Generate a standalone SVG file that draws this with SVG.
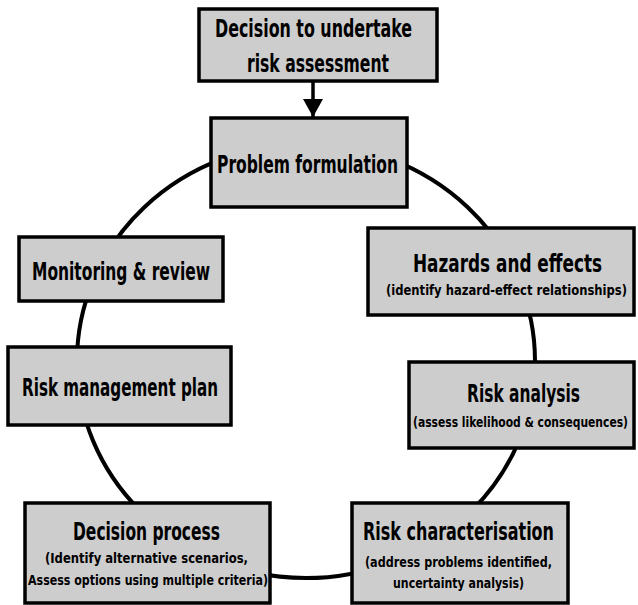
<svg xmlns="http://www.w3.org/2000/svg" width="638" height="605" viewBox="0 0 638 605">
<style>
.box{fill:#cdcdcd;stroke:#000;stroke-width:3.5}
.t{font-family:"DejaVu Sans Condensed","DejaVu Sans",sans-serif;font-stretch:condensed;font-weight:bold;fill:#000;text-anchor:middle}
.m{font-size:24px}
.s{font-size:14px}
.hz{font-size:22px}
.c{fill:none;stroke:#000;stroke-width:4}
</style>
<defs>
<marker id="ah" viewBox="0 0 18 20" refX="18" refY="10" markerWidth="18" markerHeight="20" markerUnits="userSpaceOnUse" orient="auto">
<path d="M0,0 L18,10 L0,20 Z" fill="#000"/>
</marker>
</defs>
<rect width="638" height="605" fill="#fff"/>
<g id="connectors">
<ellipse class="c" cx="306" cy="361" rx="229" ry="217"/>
<line x1="313" y1="81" x2="313" y2="117" stroke="#000" stroke-width="3.5" marker-end="url(#ah)"/>
</g>
<g id="decision">
<rect class="box" x="199" y="9" width="238" height="72"/>
<text class="t m" x="313.5" y="37" textLength="197" lengthAdjust="spacingAndGlyphs">Decision to undertake</text>
<text class="t m" x="318" y="72" textLength="142" lengthAdjust="spacingAndGlyphs">risk assessment</text>
</g>
<g id="problem">
<rect class="box" x="211" y="118" width="196" height="89"/>
<text class="t m" x="307.5" y="173" textLength="181" lengthAdjust="spacingAndGlyphs">Problem formulation</text>
</g>
<g id="monitoring">
<rect class="box" x="19" y="237" width="204" height="64"/>
<text class="t m" x="121" y="280" textLength="178" lengthAdjust="spacingAndGlyphs">Monitoring &amp; review</text>
</g>
<g id="riskplan">
<rect class="box" x="8" y="347" width="223" height="78"/>
<text class="t m" x="120" y="396" textLength="196" lengthAdjust="spacingAndGlyphs">Risk management plan</text>
</g>
<g id="hazards">
<rect class="box" x="368" y="228" width="266" height="87"/>
<text class="t m" x="507.5" y="272" textLength="189" lengthAdjust="spacingAndGlyphs">Hazards and effects</text>
<text class="t s" x="506.5" y="295" textLength="241" lengthAdjust="spacingAndGlyphs">(identify hazard-effect relationships)</text>
</g>
<g id="analysis">
<rect class="box" x="409" y="362" width="225" height="86"/>
<text class="t m" x="523.5" y="402" textLength="113" lengthAdjust="spacingAndGlyphs">Risk analysis</text>
<text class="t s" x="520.5" y="427" textLength="215" lengthAdjust="spacingAndGlyphs">(assess likelihood &amp; consequences)</text>
</g>
<g id="decisionprocess">
<rect class="box" x="25" y="503" width="245" height="100"/>
<text class="t m" x="146.5" y="540" textLength="147" lengthAdjust="spacingAndGlyphs">Decision process</text>
<text class="t s" x="146.5" y="563" textLength="203" lengthAdjust="spacingAndGlyphs">(Identify alternative scenarios,</text>
<text class="t s" x="148" y="585" textLength="240" lengthAdjust="spacingAndGlyphs">Assess options using multiple criteria)</text>
</g>
<g id="characterisation">
<rect class="box" x="352" y="503" width="216" height="100"/>
<text class="t m" x="458.5" y="540" textLength="191" lengthAdjust="spacingAndGlyphs">Risk characterisation</text>
<text class="t s" x="458.5" y="567" textLength="187" lengthAdjust="spacingAndGlyphs">(address problems identified,</text>
<text class="t s" x="458.5" y="588" textLength="131" lengthAdjust="spacingAndGlyphs">uncertainty analysis)</text>
</g>
</svg>
